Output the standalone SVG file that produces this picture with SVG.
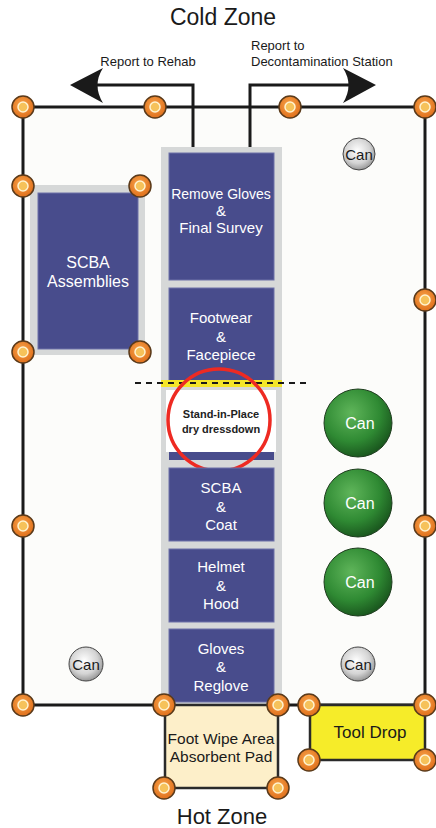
<svg xmlns="http://www.w3.org/2000/svg" width="436" height="828" viewBox="0 0 436 828">
<defs>
<radialGradient id="gcan" cx="0.4" cy="0.35" r="0.7">
<stop offset="0" stop-color="#5fb55a"/><stop offset="0.6" stop-color="#2f8a33"/><stop offset="1" stop-color="#17501b"/>
</radialGradient>
<radialGradient id="scan" cx="0.45" cy="0.4" r="0.65">
<stop offset="0" stop-color="#ffffff"/><stop offset="0.6" stop-color="#d4d4d4"/><stop offset="1" stop-color="#8a8a8a"/>
</radialGradient>
<radialGradient id="cone" cx="0.45" cy="0.4" r="0.6">
<stop offset="0" stop-color="#f7a34a"/><stop offset="1" stop-color="#e0701c"/>
</radialGradient>
<g id="c">
<circle r="11" fill="url(#cone)" stroke="#5a3a1a" stroke-width="1.5"/>
<circle r="5" fill="#f6c25a" stroke="#fff3d0" stroke-width="1.5"/>
</g>
</defs>
<style>
.t{font-family:"Liberation Sans",Arial,sans-serif;text-anchor:middle}
.w{fill:#ffffff;font-size:15px}
.k{fill:#1a1a1a}
.line{stroke:#1a1a1a;stroke-width:3;fill:none}
.blue{fill:#484c8c;stroke:#6c70a8;stroke-width:1}
</style>
<rect width="436" height="828" fill="#ffffff"/>
<rect x="23" y="107" width="402" height="598" fill="#fcfcfa"/>
<g id="boundary">
<path class="line" d="M23,107 H425 V705 H23 Z"/>
</g>
<g id="connectors">
<path class="line" d="M193,163 V85 H96"/>
<path d="M70,85 L103,68 Q92,85 103,103 Z" fill="#1a1a1a"/>
<path class="line" d="M250,163 V85 H350"/>
<path d="M376,85 L343,68 Q354,85 343,103 Z" fill="#1a1a1a"/>
</g>
<g id="labels">
<text class="t k" x="223" y="25" font-size="23">Cold Zone</text>
<text class="t k" x="148" y="66" font-size="13">Report to Rehab</text>
<text class="t k" x="251" y="50" font-size="13" style="text-anchor:start">Report to</text>
<text class="t k" x="251" y="66" font-size="13" style="text-anchor:start">Decontamination Station</text>
<text class="t k" x="222" y="824" font-size="22">Hot Zone</text>
</g>
<g id="scba-assemblies">
<rect x="30" y="185" width="115" height="170" fill="#d6d8d8"/>
<rect class="blue" x="38" y="193" width="100" height="156"/>
<text class="t w" x="88" y="268" style="font-size:16px">SCBA</text>
<text class="t w" x="88" y="287" style="font-size:16px">Assemblies</text>
</g>
<g id="column">
<rect x="161" y="147" width="121" height="558" fill="#d6d8d8"/>
</g>
<g id="remove-gloves">
<rect class="blue" x="169" y="153" width="105" height="127"/>
<text class="t w" x="221" y="199" style="font-size:14px">Remove Gloves</text>
<text class="t w" x="221" y="216">&amp;</text>
<text class="t w" x="221" y="233">Final Survey</text>
</g>
<g id="footwear">
<rect class="blue" x="169" y="288" width="105" height="94"/>
<text class="t w" x="221" y="323">Footwear</text>
<text class="t w" x="221" y="342">&amp;</text>
<text class="t w" x="221" y="360">Facepiece</text>
</g>
<g id="dressdown">
<rect x="161" y="380" width="121" height="7" fill="#f4e62a"/>
<line x1="135" y1="383" x2="308" y2="383" stroke="#1a1a1a" stroke-width="2" stroke-dasharray="6,5"/>
<rect x="166" y="390" width="110" height="62" fill="#ffffff"/>
<rect x="169" y="452" width="105" height="8" fill="#484c8c"/>
<text class="t" x="221" y="418" font-size="11" font-weight="bold" fill="#222">Stand-in-Place</text>
<text class="t" x="221" y="433" font-size="11" font-weight="bold" fill="#222">dry dressdown</text>
<circle cx="219" cy="420" r="51" fill="none" stroke="#ee2a22" stroke-width="3.5"/>
</g>
<g id="scba-coat">
<rect class="blue" x="169" y="468" width="105" height="73"/>
<text class="t w" x="221" y="493">SCBA</text>
<text class="t w" x="221" y="512">&amp;</text>
<text class="t w" x="221" y="530">Coat</text>
</g>
<g id="helmet">
<rect class="blue" x="169" y="549" width="105" height="73"/>
<text class="t w" x="221" y="572">Helmet</text>
<text class="t w" x="221" y="591">&amp;</text>
<text class="t w" x="221" y="609">Hood</text>
</g>
<g id="gloves">
<rect class="blue" x="169" y="629" width="105" height="73"/>
<text class="t w" x="221" y="654">Gloves</text>
<text class="t w" x="221" y="672">&amp;</text>
<text class="t w" x="221" y="691">Reglove</text>
</g>
<g id="foot-wipe">
<rect x="165" y="705" width="113" height="83" fill="#fdefc9" stroke="#2a2a2a" stroke-width="2.5"/>
<text class="t k" x="221" y="744" font-size="15.5">Foot Wipe Area</text>
<text class="t k" x="221" y="762" font-size="15.5">Absorbent Pad</text>
</g>
<g id="tool-drop">
<rect x="310" y="705" width="115" height="55" fill="#f6ec29" stroke="#2a2a2a" stroke-width="2.5"/>
<text class="t k" x="370" y="738" font-size="17">Tool Drop</text>
</g>
<g id="cans">
<circle cx="359" cy="154" r="16" fill="url(#scan)" stroke="#444" stroke-width="1"/>
<text class="t k" x="359" y="160" font-size="15">Can</text>
<circle cx="86" cy="664" r="17" fill="url(#scan)" stroke="#444" stroke-width="1"/>
<text class="t k" x="86" y="670" font-size="15">Can</text>
<circle cx="358" cy="664" r="17" fill="url(#scan)" stroke="#444" stroke-width="1"/>
<text class="t k" x="358" y="670" font-size="15">Can</text>
<circle cx="358" cy="423" r="34" fill="url(#gcan)" stroke="#1f3d1f" stroke-width="1"/>
<text class="t w" x="360" y="429" style="font-size:16px">Can</text>
<circle cx="358" cy="503" r="34" fill="url(#gcan)" stroke="#1f3d1f" stroke-width="1"/>
<text class="t w" x="360" y="509" style="font-size:16px">Can</text>
<circle cx="358" cy="582" r="34" fill="url(#gcan)" stroke="#1f3d1f" stroke-width="1"/>
<text class="t w" x="360" y="588" style="font-size:16px">Can</text>
</g>
<g id="cones">
<use href="#c" x="23" y="107"/><use href="#c" x="155" y="107"/><use href="#c" x="290" y="107"/><use href="#c" x="425" y="107"/>
<use href="#c" x="23" y="186"/><use href="#c" x="140" y="186"/><use href="#c" x="23" y="352"/><use href="#c" x="140" y="352"/>
<use href="#c" x="425" y="300"/><use href="#c" x="23" y="526"/><use href="#c" x="425" y="526"/>
<use href="#c" x="23" y="705"/><use href="#c" x="164" y="705"/><use href="#c" x="278" y="705"/><use href="#c" x="309" y="705"/><use href="#c" x="425" y="705"/>
<use href="#c" x="164" y="788"/><use href="#c" x="278" y="788"/><use href="#c" x="309" y="760"/><use href="#c" x="425" y="760"/>
</g>
</svg>
